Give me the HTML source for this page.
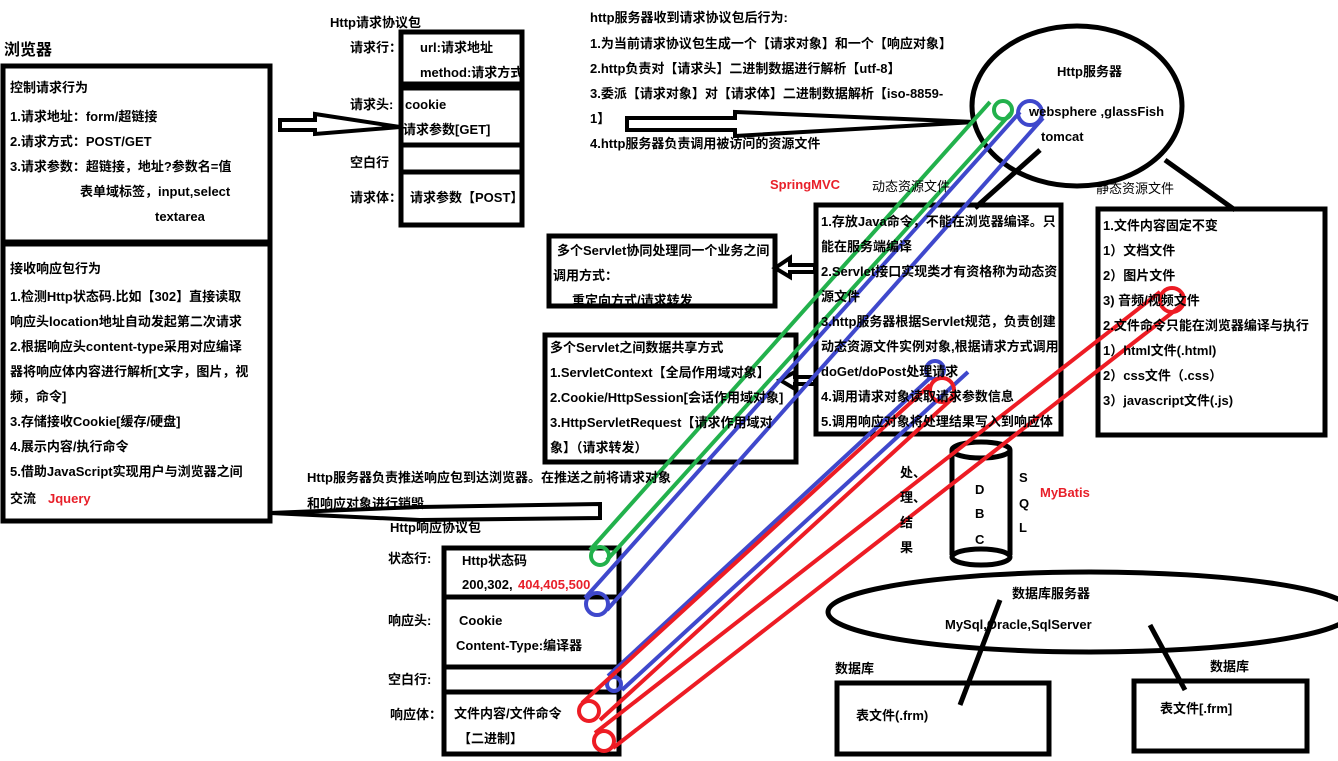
<!DOCTYPE html>
<html><head><meta charset="utf-8"><style>
html,body{margin:0;padding:0;background:#fff;}
svg{display:block}
text{font-family:"Liberation Sans","Noto Sans CJK SC",sans-serif;font-size:13px;font-weight:bold;fill:#000}
.r{fill:#e8202a}
</style></head><body>
<svg width="1338" height="761" viewBox="0 0 1338 761" xmlns="http://www.w3.org/2000/svg">
<g fill="none" stroke="#000" stroke-width="5">
<rect x="3" y="66" width="267" height="176"/>
<rect x="3" y="244" width="267" height="277"/>
<rect x="401" y="32" width="121" height="193"/>
<line x1="401" y1="84" x2="522" y2="84"/><line x1="401" y1="88" x2="522" y2="88"/>
<line x1="401" y1="145" x2="522" y2="145"/><line x1="401" y1="172" x2="522" y2="172"/>
<rect x="549" y="236" width="226" height="70"/>
<rect x="545" y="335" width="251" height="127"/>
<rect x="816" y="205" width="245" height="229"/>
<rect x="1098" y="209" width="227" height="226"/>
<rect x="444" y="548" width="175" height="206"/>
<line x1="444" y1="597" x2="619" y2="597"/><line x1="444" y1="667" x2="619" y2="667"/><line x1="444" y1="692" x2="619" y2="692"/>
<rect x="837" y="683" width="212" height="71"/>
<rect x="1134" y="681" width="173" height="70"/>
<ellipse cx="1077" cy="106" rx="105" ry="80"/>
<ellipse cx="1090" cy="612" rx="262" ry="40"/>
<path d="M952 450 L952 555 M1010 450 L1010 555"/>
<ellipse cx="981" cy="450" rx="29" ry="8"/><ellipse cx="981" cy="557" rx="29" ry="8"/>
<line x1="1040" y1="150" x2="975" y2="208"/>
<line x1="1165" y1="160" x2="1235" y2="210"/>
<line x1="1000" y1="600" x2="960" y2="705"/>
<line x1="1150" y1="625" x2="1185" y2="690"/>
<path d="M280 120 L315 120 L315 114 L400 127 L315 134 L315 130 L280 130 Z" stroke-width="4"/>
<path d="M627 118 L735 118 L735 112 L975 122 L735 136 L735 130 L627 130 Z" stroke-width="4"/>
<path d="M815 265 L790 265 L790 258 L775 268 L790 277 L790 272 L815 272 Z" stroke-width="4"/>
<path d="M815 377 L795 377 L795 372 L780 380 L795 389 L795 384 L815 384 Z" stroke-width="4"/>
<path d="M600 504 L420 507 L270 513 L420 520 L600 518 Z" stroke-width="4"/>
</g>
<g fill="none" stroke-width="4">
<g stroke="#22b14c">
<line x1="990" y1="102" x2="590" y2="550"/><line x1="1012" y1="112" x2="607" y2="560"/>
<circle cx="1003" cy="110" r="9"/><circle cx="600" cy="556" r="9"/></g>
<g stroke="#3f48cc">
<line x1="1020" y1="112" x2="585" y2="598"/><line x1="1043" y1="118" x2="607" y2="610"/>
<circle cx="1030" cy="113" r="12"/><circle cx="597" cy="604" r="11"/>
<line x1="930" y1="378" x2="608" y2="676"/><line x1="968" y1="372" x2="622" y2="690"/>
<circle cx="935" cy="370" r="9"/><circle cx="614" cy="684" r="7"/></g>
<g stroke="#ed1c24">
<line x1="930" y1="385" x2="582" y2="703"/><line x1="955" y1="396" x2="600" y2="720"/>
<circle cx="942" cy="390" r="12"/><circle cx="589" cy="711" r="10"/>
<line x1="1160" y1="292" x2="595" y2="733"/><line x1="1182" y1="305" x2="613" y2="748"/>
<circle cx="1172" cy="300" r="12"/><circle cx="604" cy="741" r="10"/></g>
</g>
<text x="4" y="55" style="font-size:16px">浏览器</text>
<text x="10" y="92">控制请求行为</text>
<text x="10" y="121">1.请求地址：form/超链接</text>
<text x="10" y="146">2.请求方式：POST/GET</text>
<text x="10" y="171">3.请求参数：超链接，地址?参数名=值</text>
<text x="80" y="196">表单域标签，input,select</text>
<text x="155" y="221">textarea</text>
<text x="10" y="273">接收响应包行为</text>
<text x="10" y="301">1.检测Http状态码.比如【302】直接读取</text>
<text x="10" y="326">响应头location地址自动发起第二次请求</text>
<text x="10" y="351">2.根据响应头content-type采用对应编译</text>
<text x="10" y="376">器将响应体内容进行解析[文字，图片，视</text>
<text x="10" y="401">频，命令]</text>
<text x="10" y="426">3.存储接收Cookie[缓存/硬盘]</text>
<text x="10" y="451">4.展示内容/执行命令</text>
<text x="10" y="476">5.借助JavaScript实现用户与浏览器之间</text>
<text x="10" y="503">交流</text><text class="r" x="48" y="503">Jquery</text>
<text x="330" y="27">Http请求协议包</text>
<text x="350" y="52">请求行：</text>
<text x="420" y="52">url:请求地址</text>
<text x="420" y="77">method:请求方式</text>
<text x="350" y="109">请求头:</text>
<text x="405" y="109">cookie</text>
<text x="403" y="134">请求参数[GET]</text>
<text x="350" y="167">空白行</text>
<text x="350" y="202">请求体：</text>
<text x="410" y="202">请求参数【POST】</text>
<text x="590" y="22">http服务器收到请求协议包后行为:</text>
<text x="590" y="48">1.为当前请求协议包生成一个【请求对象】和一个【响应对象】</text>
<text x="590" y="73">2.http负责对【请求头】二进制数据进行解析【utf-8】</text>
<text x="590" y="98">3.委派【请求对象】对【请求体】二进制数据解析【iso-8859-</text>
<text x="590" y="123">1】</text>
<text x="590" y="148">4.http服务器负责调用被访问的资源文件</text>
<text x="1057" y="76">Http服务器</text>
<text x="1029" y="116">websphere  ,glassFish</text>
<text x="1041" y="141">tomcat</text>
<text class="r" x="770" y="189">SpringMVC</text>
<text x="872" y="191" style="font-weight:normal">动态资源文件</text>
<text x="1096" y="193" style="font-weight:normal">静态资源文件</text>
<text x="821" y="226">1.存放Java命令，不能在浏览器编译。只</text>
<text x="821" y="251">能在服务端编译</text>
<text x="821" y="276">2.Servlet接口实现类才有资格称为动态资</text>
<text x="821" y="301">源文件</text>
<text x="821" y="326">3.http服务器根据Servlet规范，负责创建</text>
<text x="821" y="351">动态资源文件实例对象,根据请求方式调用</text>
<text x="821" y="376">doGet/doPost处理请求</text>
<text x="821" y="401">4.调用请求对象读取请求参数信息</text>
<text x="821" y="426">5.调用响应对象将处理结果写入到响应体</text>
<text x="1103" y="230">1.文件内容固定不变</text>
<text x="1103" y="255">1）文档文件</text>
<text x="1103" y="280">2）图片文件</text>
<text x="1103" y="305">3) 音频/视频文件</text>
<text x="1103" y="330">2.文件命令只能在浏览器编译与执行</text>
<text x="1103" y="355">1）html文件(.html)</text>
<text x="1103" y="380">2）css文件（.css）</text>
<text x="1103" y="405">3）javascript文件(.js)</text>
<text x="557" y="255">多个Servlet协同处理同一个业务之间</text>
<text x="553" y="280">调用方式：</text>
<text x="572" y="305">重定向方式/请求转发</text>
<text x="550" y="352">多个Servlet之间数据共享方式</text>
<text x="550" y="377">1.ServletContext【全局作用域对象】</text>
<text x="550" y="402">2.Cookie/HttpSession[会话作用域对象]</text>
<text x="550" y="427">3.HttpServletRequest【请求作用域对</text>
<text x="550" y="452">象】（请求转发）</text>
<text x="307" y="482">Http服务器负责推送响应包到达浏览器。在推送之前将请求对象</text>
<text x="307" y="508">和响应对象进行销毁</text>
<text x="390" y="532">Http响应协议包</text>
<text x="388" y="563">状态行:</text>
<text x="462" y="565">Http状态码</text>
<text x="462" y="589">200,302,</text><text class="r" x="518" y="589">404,405,500</text>
<text x="388" y="625">响应头:</text>
<text x="459" y="625">Cookie</text>
<text x="456" y="650">Content-Type:编译器</text>
<text x="388" y="684">空白行:</text>
<text x="390" y="719">响应体：</text>
<text x="454" y="718">文件内容/文件命令</text>
<text x="458" y="743">【二进制】</text>
<text x="900" y="477">处、</text><text x="900" y="502">理、</text><text x="900" y="527">结</text><text x="900" y="552">果</text>
<text x="975" y="494">D</text><text x="975" y="518">B</text><text x="975" y="544">C</text>
<text x="1019" y="482">S</text><text x="1019" y="508">Q</text><text x="1019" y="532">L</text>
<text class="r" x="1040" y="497">MyBatis</text>
<text x="1012" y="598">数据库服务器</text>
<text x="945" y="629">MySql,Oracle,SqlServer</text>
<text x="835" y="673">数据库</text>
<text x="1210" y="671">数据库</text>
<text x="856" y="720">表文件(.frm)</text>
<text x="1160" y="713">表文件[.frm]</text>
</svg>
</body></html>
